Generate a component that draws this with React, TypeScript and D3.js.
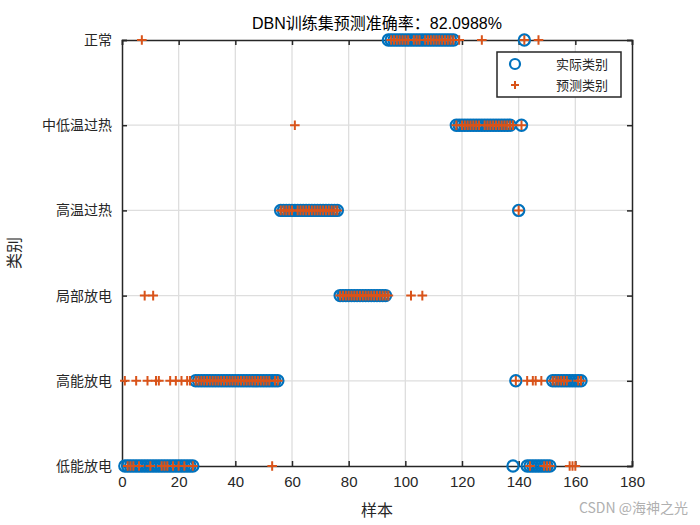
import { useRef, useEffect } from "react";
import * as d3 from "d3";

// category names, bottom to top (index 1..6)
const categories: string[] = ["低能放电", "高能放电", "局部放电", "高温过热", "中低温过热", "正常"];
const xTicks: number[] = [0, 20, 40, 60, 80, 100, 120, 140, 160, 180];

// actual class of each sample (sample 1..162)
const actualClass: number[] = [
    1, 1, 1, 1, 1, 1, 1, 1, 1, 1,
    1, 1, 1, 1, 1, 1, 1, 1, 1, 1,
    1, 1, 1, 1, 1, 2, 2, 2, 2, 2,
    2, 2, 2, 2, 2, 2, 2, 2, 2, 2,
    2, 2, 2, 2, 2, 2, 2, 2, 2, 2,
    2, 2, 2, 2, 2, 4, 4, 4, 4, 4,
    4, 4, 4, 4, 4, 4, 4, 4, 4, 4,
    4, 4, 4, 4, 4, 4, 3, 3, 3, 3,
    3, 3, 3, 3, 3, 3, 3, 3, 3, 3,
    3, 3, 3, 6, 6, 6, 6, 6, 6, 6,
    6, 6, 6, 6, 6, 6, 6, 6, 6, 6,
    6, 6, 6, 6, 6, 6, 6, 5, 5, 5,
    5, 5, 5, 5, 5, 5, 5, 5, 5, 5,
    5, 5, 5, 5, 5, 5, 5, 1, 2, 4,
    5, 6, 1, 1, 1, 1, 1, 1, 1, 1,
    1, 2, 2, 2, 2, 2, 2, 2, 2, 2,
    2, 2,
];

// predicted class of each sample
const predictedClass: number[] = [
    2, 1, 1, 1, 2, 1, 6, 3, 2, 1,
    3, 2, 2, 1, 1, 1, 2, 1, 2, 1,
    2, 1, 2, 2, 1, 2, 2, 2, 2, 2,
    2, 2, 2, 2, 2, 2, 2, 2, 2, 2,
    2, 2, 2, 2, 2, 2, 2, 2, 2, 2,
    2, 2, 1, 2, 2, 4, 4, 4, 4, 4,
    5, 4, 4, 4, 4, 4, 4, 4, 4, 4,
    4, 4, 4, 4, 4, 4, 3, 3, 3, 3,
    3, 3, 3, 3, 3, 3, 3, 3, 3, 3,
    3, 3, 3, 3, 6, 6, 6, 6, 6, 6,
    6, 3, 6, 6, 6, 3, 6, 6, 6, 6,
    6, 6, 6, 6, 6, 6, 6, 5, 6, 5,
    5, 5, 5, 5, 5, 5, 6, 5, 5, 5,
    5, 5, 5, 5, 5, 5, 5, 5, 2, 4,
    5, 6, 2, 1, 2, 2, 6, 2, 1, 1,
    1, 2, 2, 2, 2, 2, 2, 1, 1, 1,
    2, 2,
];

const blue = "#0072BD";
const orange = "#D95319";
const axisColor = "#262626";
const cjk = "'Noto Sans CJK SC', sans-serif";
const latin = "'Liberation Sans', Arial, sans-serif";

export default function App() {
    const svgRef = useRef<SVGSVGElement | null>(null);

    useEffect(() => {
        if (!svgRef.current) return;
        const svg = d3.select(svgRef.current);
        svg.selectAll("*").remove();

        const margin = { top: 40, right: 68, bottom: 59, left: 122 };
        const width = 700 - margin.left - margin.right;
        const height = 525 - margin.top - margin.bottom;

        const x = d3.scaleLinear().domain([0, 180]).range([0, width]);
        const y = d3.scaleLinear().domain([1, 6]).range([height, 0]);

        const g = svg.append("g").attr("transform", `translate(${margin.left},${margin.top})`);

        // grid
        g.append("g")
            .selectAll("line")
            .data(xTicks.slice(1, -1))
            .join("line")
            .attr("x1", (d) => x(d)).attr("x2", (d) => x(d))
            .attr("y1", 0).attr("y2", height)
            .attr("stroke", "#dedede").attr("stroke-width", 1.3);
        g.append("g")
            .selectAll("line")
            .data(d3.range(2, 6))
            .join("line")
            .attr("y1", (d) => y(d)).attr("y2", (d) => y(d))
            .attr("x1", 0).attr("x2", width)
            .attr("stroke", "#dedede").attr("stroke-width", 1.3);

        // axes (ticks inward, box on)
        const bottom = g.append("g").attr("transform", `translate(0,${height})`)
            .call(d3.axisBottom(x).tickValues(xTicks).tickSize(-5).tickPadding(10));
        const top = g.append("g")
            .call(d3.axisTop(x).tickValues(xTicks).tickSize(-5).tickFormat(() => ""));
        const left = g.append("g")
            .call(d3.axisLeft(y).tickValues(d3.range(1, 7)).tickSize(-5).tickPadding(10)
                .tickFormat((d: any) => categories[d - 1]));
        const right = g.append("g").attr("transform", `translate(${width},0)`)
            .call(d3.axisRight(y).tickValues(d3.range(1, 7)).tickSize(-5).tickFormat(() => ""));

        [bottom, top, left, right].forEach((a) => {
            a.select(".domain").attr("stroke", axisColor).attr("stroke-width", 1.5);
            a.selectAll(".tick line").attr("stroke", axisColor).attr("stroke-width", 1.5);
            a.selectAll(".tick text").attr("fill", axisColor);
        });
        bottom.selectAll(".tick text").style("font-family", latin).style("font-size", "15px");
        left.selectAll(".tick text").style("font-family", cjk).style("font-size", "14px");

        const samples = actualClass.map((c, i) => ({ idx: i + 1, actual: c, predicted: predictedClass[i] }));

        // actual class markers
        g.append("g")
            .selectAll("circle")
            .data(samples)
            .join("circle")
            .attr("cx", (d) => x(d.idx))
            .attr("cy", (d) => y(d.actual))
            .attr("r", 5.6)
            .attr("fill", "none")
            .attr("stroke", blue)
            .attr("stroke-width", 2.2);

        // predicted class markers
        const plus = (px: number, py: number, s: number) =>
            `M${px - s},${py}H${px + s}M${px},${py - s}V${py + s}`;
        g.append("g")
            .selectAll("path")
            .data(samples)
            .join("path")
            .attr("d", (d) => plus(x(d.idx), y(d.predicted), 4.8))
            .attr("stroke", orange)
            .attr("stroke-width", 2)
            .attr("fill", "none");

        // legend
        const lg = g.append("g").attr("transform", `translate(${width - 135},12)`);
        lg.append("rect").attr("width", 124).attr("height", 45)
            .attr("fill", "white").attr("stroke", axisColor).attr("stroke-width", 1.5);
        lg.append("circle").attr("cx", 18).attr("cy", 12).attr("r", 5)
            .attr("fill", "none").attr("stroke", blue).attr("stroke-width", 2.2);
        lg.append("path").attr("d", plus(18, 33, 4)).attr("stroke", orange).attr("stroke-width", 2);
        lg.append("text").attr("x", 59).attr("y", 17).text("实际类别")
            .style("font-family", cjk).style("font-size", "13px").attr("fill", axisColor);
        lg.append("text").attr("x", 59).attr("y", 38).text("预测类别")
            .style("font-family", cjk).style("font-size", "13px").attr("fill", axisColor);

        // title and labels
        const title = svg.append("text").attr("x", margin.left + width / 2).attr("y", 29)
            .attr("text-anchor", "middle").attr("fill", "#000").style("font-size", "16px");
        title.append("tspan").style("font-family", latin).text("DBN");
        title.append("tspan").style("font-family", cjk).text("训练集预测准确率：");
        title.append("tspan").style("font-family", latin).text("82.0988%");

        svg.append("text").attr("x", margin.left + width / 2).attr("y", 516)
            .attr("text-anchor", "middle").attr("fill", axisColor)
            .style("font-family", cjk).style("font-size", "16px").text("样本");

        svg.append("text").attr("transform", `translate(20,${margin.top + height / 2}) rotate(-90)`)
            .attr("text-anchor", "middle").attr("fill", axisColor)
            .style("font-family", cjk).style("font-size", "16px").text("类别");

        // watermark
        svg.append("text").attr("x", 688).attr("y", 513).attr("text-anchor", "end")
            .attr("fill", "#b0b0b0").style("font-family", cjk).style("font-size", "14px")
            .text("CSDN @海神之光");
    }, []);

    return (
        <div style={{ position: "absolute", left: 0, top: 0 }}>
            <svg ref={svgRef} width={700} height={525} style={{ display: "block", background: "white" }}></svg>
        </div>
    );
}
